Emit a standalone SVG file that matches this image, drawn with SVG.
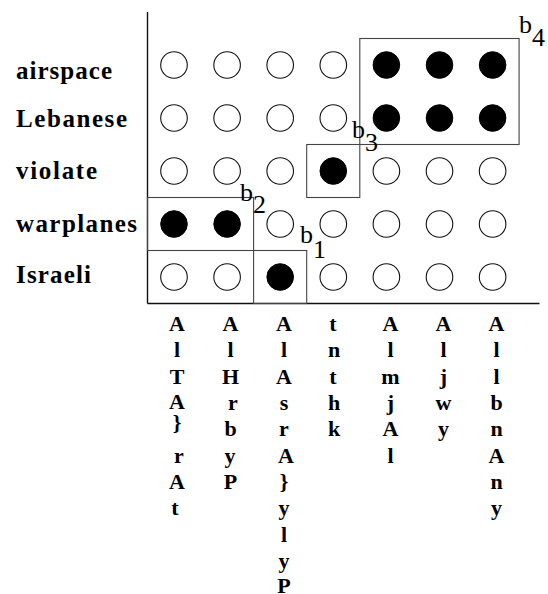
<svg xmlns="http://www.w3.org/2000/svg" width="548" height="594" viewBox="0 0 548 594">
<style>
.e{fill:#fff;stroke:#111;stroke-width:1.1}
.f{fill:#000;stroke:#000;stroke-width:1}
.box{fill:none;stroke:#444;stroke-width:1.1}
.ax{stroke:#111;stroke-width:1.4;fill:none}
.rl{font-family:"Liberation Serif",serif;font-weight:bold;font-size:25px;fill:#000}
.cl{font-family:"Liberation Serif",serif;font-weight:bold;font-size:22px;fill:#000;text-anchor:middle}
.bl{font-family:"Liberation Serif",serif;font-size:26px;fill:#000}
</style>
<rect width="548" height="594" fill="#fff"/>
<g id="axes">
<line class="ax" x1="147.5" y1="12" x2="147.5" y2="303.5"/>
<line class="ax" x1="147.5" y1="303.5" x2="539.5" y2="303.5"/>
</g>
<g id="row-labels">
<text class="rl" x="16" y="79" textLength="96" lengthAdjust="spacing">airspace</text>
<text class="rl" x="16" y="127" textLength="111" lengthAdjust="spacing">Lebanese</text>
<text class="rl" x="16" y="179" textLength="81" lengthAdjust="spacing">violate</text>
<text class="rl" x="16" y="232" textLength="121" lengthAdjust="spacing">warplanes</text>
<text class="rl" x="16" y="283" textLength="75" lengthAdjust="spacing">Israeli</text>
</g>
<g id="grid">
<circle class="e" cx="174" cy="65" r="13.3"/><circle class="e" cx="227.1" cy="65" r="13.3"/><circle class="e" cx="280.2" cy="65" r="13.3"/><circle class="e" cx="333.3" cy="65" r="13.3"/><circle class="f" cx="386.4" cy="65" r="13.3"/><circle class="f" cx="439.5" cy="65" r="13.3"/><circle class="f" cx="492.6" cy="65" r="13.3"/>
<circle class="e" cx="174" cy="118" r="13.3"/><circle class="e" cx="227.1" cy="118" r="13.3"/><circle class="e" cx="280.2" cy="118" r="13.3"/><circle class="e" cx="333.3" cy="118" r="13.3"/><circle class="f" cx="386.4" cy="118" r="13.3"/><circle class="f" cx="439.5" cy="118" r="13.3"/><circle class="f" cx="492.6" cy="118" r="13.3"/>
<circle class="e" cx="174" cy="171" r="13.3"/><circle class="e" cx="227.1" cy="171" r="13.3"/><circle class="e" cx="280.2" cy="171" r="13.3"/><circle class="f" cx="333.3" cy="171" r="13.3"/><circle class="e" cx="386.4" cy="171" r="13.3"/><circle class="e" cx="439.5" cy="171" r="13.3"/><circle class="e" cx="492.6" cy="171" r="13.3"/>
<circle class="f" cx="174" cy="224" r="13.3"/><circle class="f" cx="227.1" cy="224" r="13.3"/><circle class="e" cx="280.2" cy="224" r="13.3"/><circle class="e" cx="333.3" cy="224" r="13.3"/><circle class="e" cx="386.4" cy="224" r="13.3"/><circle class="e" cx="439.5" cy="224" r="13.3"/><circle class="e" cx="492.6" cy="224" r="13.3"/>
<circle class="e" cx="174" cy="277" r="13.3"/><circle class="e" cx="227.1" cy="277" r="13.3"/><circle class="f" cx="280.2" cy="277" r="13.3"/><circle class="e" cx="333.3" cy="277" r="13.3"/><circle class="e" cx="386.4" cy="277" r="13.3"/><circle class="e" cx="439.5" cy="277" r="13.3"/><circle class="e" cx="492.6" cy="277" r="13.3"/>
</g>
<g id="b4">
<rect class="box" x="359.8" y="38.5" width="159.3" height="106"/>
<text class="bl" x="519" y="33">b</text><text class="bl" x="532" y="46">4</text>
</g>
<g id="b3">
<rect class="box" x="306.7" y="144.5" width="53.1" height="53"/>
<text class="bl" x="352" y="138">b</text><text class="bl" x="365" y="151">3</text>
</g>
<g id="b2">
<rect class="box" x="147.5" y="197.5" width="106.1" height="53"/>
<text class="bl" x="240" y="201">b</text><text class="bl" x="253" y="213">2</text>
</g>
<g id="b1">
<rect class="box" x="253.6" y="250.5" width="53.1" height="53"/>
<text class="bl" x="300" y="243">b</text><text class="bl" x="313" y="258">1</text>
</g>
<g id="col-labels">
<text class="cl" x="177" y="331">A</text><text class="cl" x="177" y="357">l</text><text class="cl" x="177" y="384">T</text><text class="cl" x="177" y="409">A</text><text class="cl" x="177" y="430" font-size="19">}</text><text class="cl" x="179" y="463">r</text><text class="cl" x="177" y="489">A</text><text class="cl" x="175" y="515">t</text>
<text class="cl" x="230.5" y="331">A</text><text class="cl" x="230.5" y="357">l</text><text class="cl" x="230.5" y="384">H</text><text class="cl" x="233" y="410">r</text><text class="cl" x="230.5" y="436">b</text><text class="cl" x="230" y="463">y</text><text class="cl" x="230.5" y="489">P</text>
<text class="cl" x="284" y="331">A</text><text class="cl" x="284" y="357">l</text><text class="cl" x="284" y="384">A</text><text class="cl" x="284" y="410">s</text><text class="cl" x="284" y="436">r</text><text class="cl" x="286" y="463">A</text><text class="cl" x="284" y="489" font-size="19">}</text><text class="cl" x="284" y="515">y</text><text class="cl" x="284" y="542">l</text><text class="cl" x="284" y="568">y</text><text class="cl" x="284" y="593">P</text>
<text class="cl" x="333" y="331">t</text><text class="cl" x="334" y="357">n</text><text class="cl" x="333" y="384">t</text><text class="cl" x="334" y="410">h</text><text class="cl" x="334" y="436">k</text>
<text class="cl" x="390.5" y="331">A</text><text class="cl" x="390.5" y="357">l</text><text class="cl" x="390.5" y="384">m</text><text class="cl" x="390.5" y="410">j</text><text class="cl" x="390.5" y="436">A</text><text class="cl" x="390.5" y="463">l</text>
<text class="cl" x="443.5" y="331">A</text><text class="cl" x="443.5" y="357">l</text><text class="cl" x="443.5" y="384">j</text><text class="cl" x="443.5" y="410">w</text><text class="cl" x="443.5" y="436">y</text>
<text class="cl" x="496.5" y="331">A</text><text class="cl" x="496.5" y="357">l</text><text class="cl" x="496.5" y="384">l</text><text class="cl" x="496.5" y="410">b</text><text class="cl" x="496.5" y="436">n</text><text class="cl" x="496.5" y="463">A</text><text class="cl" x="496.5" y="489">n</text><text class="cl" x="496.5" y="515">y</text>
</g>
</svg>
